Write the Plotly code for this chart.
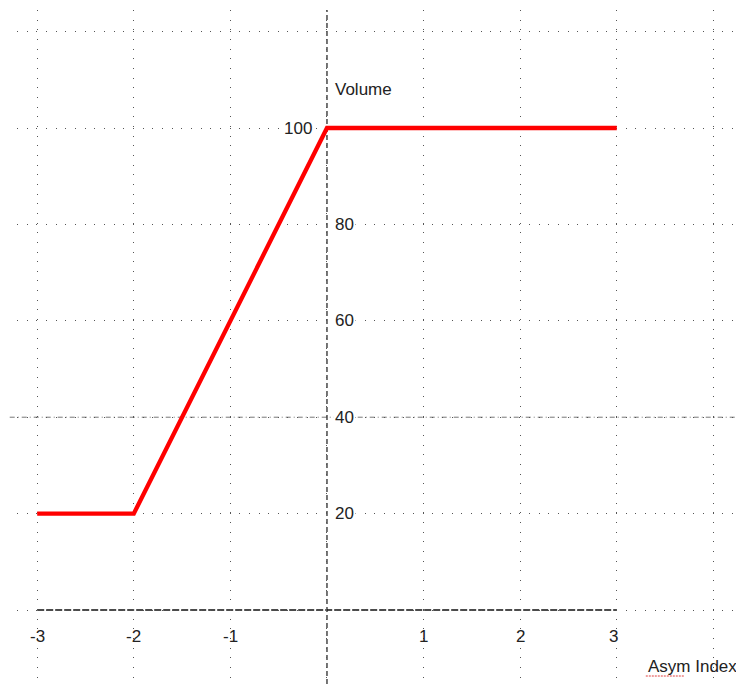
import plotly.graph_objects as go

# Data
asym_index = [-3, -2, 0, 3]
volume = [20, 20, 100, 100]

x_ticks = [-3, -2, -1, 1, 2, 3]
x_tick_labels = ["-3", "-2", "-1", "1", "2", "3"]
y_ticks = [20, 40, 60, 80, 100]
y_tick_labels = ["20", "40", "60", "80", "100"]

x_grid = [-3, -2, -1, 0, 1, 2, 3, 4]
y_grid = [0, 20, 40, 60, 80, 100, 120]

FONT = "Liberation Sans, Arial, sans-serif"
GRID = "#555555"
DOTS = "1px,8.66px"
FS = 17

fig = go.Figure()
fig.add_trace(go.Scatter(x=asym_index, y=volume, mode="lines",
                         line=dict(color="#ff0000", width=4.3), hoverinfo="skip"))

fig.update_layout(
    width=736, height=676,
    margin=dict(l=9, r=0, t=2, b=0),
    paper_bgcolor="white", plot_bgcolor="white",
    showlegend=False,
    xaxis=dict(range=[-3.209, 4.317], tickvals=x_grid, showticklabels=False,
               showgrid=True, gridcolor=GRID, gridwidth=1, griddash=DOTS,
               zeroline=False, showline=False, ticks=""),
    yaxis=dict(range=[-15.35, 124.48], tickvals=y_grid, showticklabels=False,
               showgrid=True, gridcolor=GRID, gridwidth=1, griddash=DOTS,
               zeroline=False, showline=False, ticks=""),
)

# y-axis (x=0) dashed line, full height
fig.add_shape(type="line", xref="x", yref="paper", x0=0, x1=0, y0=0, y1=1,
              line=dict(color="#1a1a1a", width=1.2, dash="5px,3px"), layer="below")
# x-axis (y=0) dashed from -3 to 3
fig.add_shape(type="line", xref="x", yref="y", x0=-3, x1=3, y0=0, y1=0,
              line=dict(color="#111111", width=1.5, dash="7px,2px"), layer="below")
# y=40 dash-dot line across
fig.add_shape(type="line", xref="paper", yref="y", x0=-0.01, x1=1, y0=40, y1=40,
              line=dict(color="#777777", width=1, dash="5px,3px,1px,3px"), layer="below")

# x tick labels
for v, t in zip(x_ticks, x_tick_labels):
    fig.add_annotation(x=v, y=0, xref="x", yref="y", text=t, showarrow=False,
                       xanchor="center", yanchor="middle", yshift=-26,
                       xshift=(-3 if v == 3 else 0),
                       font=dict(family=FONT, size=FS, color="#222222"))
# y tick labels
for v, t in zip(y_ticks, y_tick_labels):
    if v == 100:
        fig.add_annotation(x=0, y=v, xref="x", yref="y", text=t, showarrow=False,
                           xanchor="right", yanchor="middle", xshift=-13,
                           font=dict(family=FONT, size=FS, color="#222222"), bgcolor="white")
    else:
        fig.add_annotation(x=0, y=v, xref="x", yref="y", text=t, showarrow=False,
                           xanchor="left", yanchor="middle", xshift=6,
                           font=dict(family=FONT, size=FS, color="#222222"), bgcolor="white")

# axis titles
fig.add_annotation(x=0, y=(610 - 89) / 4.82, xref="x", yref="y", text="Volume", showarrow=False,
                   xanchor="left", yanchor="middle", xshift=6,
                   font=dict(family=FONT, size=FS, color="#222222"))
fig.add_annotation(x=(646 - 327.25) / 96.58, y=(610 - 666) / 4.82, xref="x", yref="y",
                   text="Asym Index", showarrow=False, xanchor="left", yanchor="middle",
                   font=dict(family=FONT, size=FS, color="#222222"))
# spell-check style underline under "Asym"
fig.add_shape(type="line", xref="x", yref="y",
              x0=(646 - 327.25) / 96.58, x1=(685 - 327.25) / 96.58,
              y0=(610 - 676) / 4.82, y1=(610 - 676) / 4.82,
              line=dict(color="#e04040", width=1, dash="2px,1px"))

fig.write_html("out.html")
